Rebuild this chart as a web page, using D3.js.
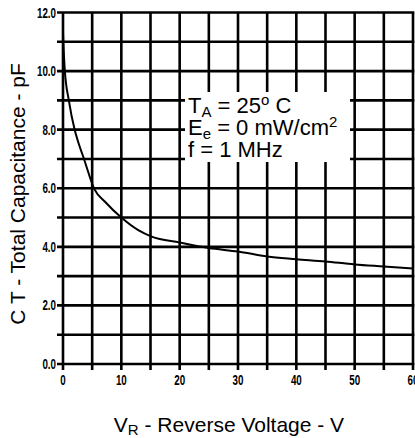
<!DOCTYPE html>
<html>
<head>
<meta charset="utf-8">
<script src="https://cdn.jsdelivr.net/npm/d3@7"></script>
<style>
  body { margin: 0; background: #fff; }
  svg { display: block; }
  .tick-label { font-family: "Liberation Sans", Arial, sans-serif; font-weight: bold; font-size: 14px; }
  .title { font-family: "Liberation Sans", Arial, sans-serif; font-size: 21px; }
  .note { font-family: "Liberation Sans", Arial, sans-serif; font-size: 22px; }
</style>
</head>
<body>
<div id="chart-area"></div>
<script>
// DATA-----------------------------------------------------------------------
const voltage = [0, 0.05, 0.3, 1, 2, 2.5, 3.6, 5.4, 7.2, 10, 12.9, 15.2, 20, 25, 30, 35, 40, 45, 50, 55, 60]
const capacitance = [11.33, 11.05, 10.05, 9.0, 8.0, 7.65, 7.0, 5.96, 5.54, 5.0, 4.57, 4.35, 4.15, 3.96, 3.84, 3.67, 3.58, 3.5, 3.4, 3.33, 3.26]
const xGrid = [0, 5, 10, 15, 20, 25, 30, 35, 40, 45, 50, 55, 60]
const yGrid = [0, 1, 2, 3, 4, 5, 6, 7, 8, 9, 10, 11, 12]
const xTickLabels = [0, 10, 20, 30, 40, 50, 60]
const yTickLabels = [0, 2, 4, 6, 8, 10, 12]

// SVG-------------------------------------------------------------------------
const W = 415, H = 438
const svg = d3.select("#chart-area").append("svg")
  .attr("width", W)
  .attr("height", H)

// SCALES-----------------------------------------------------------------------
const xScale = d3.scaleLinear().domain([0, 60]).range([63, 413])
const yScale = d3.scaleLinear().domain([0, 12]).range([364, 12.5])

// GRID (lines stick out a little as ticks)
svg.append("g").selectAll("line").data(xGrid).enter().append("line")
  .attr("x1", d => xScale(d)).attr("x2", d => xScale(d))
  .attr("y1", yScale(12)).attr("y2", yScale(0) + 6)
  .attr("stroke", "#000").attr("stroke-width", 2.6)

svg.append("g").selectAll("line").data(yGrid).enter().append("line")
  .attr("x1", xScale(0) - 6).attr("x2", xScale(60) + 1.3)
  .attr("y1", d => yScale(d)).attr("y2", d => yScale(d))
  .attr("stroke", "#000").attr("stroke-width", 2.6)

// TICK LABELS (narrow bold digits)
svg.append("g").selectAll("text").data(yTickLabels).enter().append("text")
  .attr("class", "tick-label")
  .attr("text-anchor", "end")
  .attr("transform", d => `translate(${xScale(0) - 7}, ${yScale(d) + 5}) scale(0.7,1)`)
  .text(d => d.toFixed(1))

svg.append("g").selectAll("text").data(xTickLabels).enter().append("text")
  .attr("class", "tick-label")
  .attr("text-anchor", "middle")
  .attr("transform", d => `translate(${xScale(d)}, ${yScale(0) + 21}) scale(0.7,1)`)
  .text(d => d)

// CURVE
const line = d3.line()
  .x(d => xScale(d[0]))
  .y(d => yScale(d[1]))
  .curve(d3.curveMonotoneX)

svg.append("path")
  .datum(voltage.map((v, i) => [v, capacitance[i]]))
  .attr("d", line)
  .attr("fill", "none")
  .attr("stroke", "#000")
  .attr("stroke-width", 2)

// CONDITIONS BOX
svg.append("rect")
  .attr("x", 185).attr("y", 92)
  .attr("width", 165).attr("height", 70)
  .attr("fill", "#fff")

const note = svg.append("text").attr("class", "note")
const l1 = note.append("tspan").attr("x", 188).attr("y", 113)
l1.append("tspan").text("T")
l1.append("tspan").attr("font-size", "15px").attr("dy", 4).text("A")
l1.append("tspan").attr("dy", -4).text(" = 25")
l1.append("tspan").attr("font-size", "15px").attr("dy", -8).text("o")
l1.append("tspan").attr("dy", 8).text(" C")

const l2 = note.append("tspan").attr("x", 188).attr("y", 135)
l2.append("tspan").text("E")
l2.append("tspan").attr("font-size", "15px").attr("dy", 4).text("e")
l2.append("tspan").attr("dy", -4).text(" = 0 mW/cm")
l2.append("tspan").attr("font-size", "15px").attr("dy", -8).text("2")

note.append("tspan").attr("x", 188).attr("y", 157).text("f = 1 MHz")

// AXIS TITLES
const xt = svg.append("text").attr("class", "title")
  .attr("text-anchor", "middle")
  .attr("x", 229).attr("y", 432)
xt.append("tspan").text("V")
xt.append("tspan").attr("font-size", "15px").attr("dy", 3).text("R")
xt.append("tspan").attr("dy", -3).text(" - Reverse Voltage - V")

const yt = svg.append("text").attr("class", "title")
  .attr("text-anchor", "middle")
  .attr("transform", "translate(25, 194) rotate(-90)")
yt.append("tspan").text("C")
yt.append("tspan").text(" T - Total Capacitance - pF")
</script>
</body>
</html>
